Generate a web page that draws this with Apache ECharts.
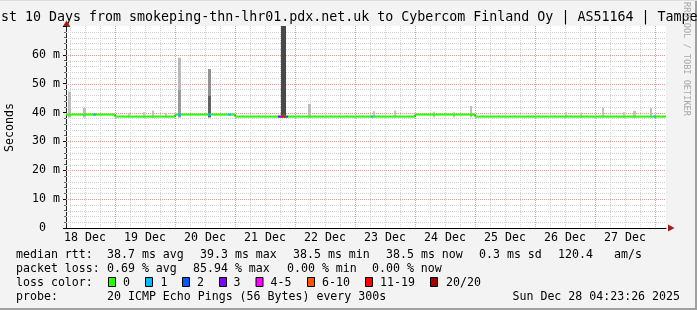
<!DOCTYPE html>
<html><head><meta charset="utf-8">
<script src="https://cdn.jsdelivr.net/npm/echarts@6/dist/echarts.min.js"></script>
<style>html,body{margin:0;padding:0;background:#f3f3f3;}#c{width:697px;height:310px;}</style>
</head><body><div id="c"></div>
<script>
// ---- data (hours since 18 Dec 00:00 UTC) ----
const startHour = 4 + 23/60 + 26/3600;          // Dec 18 04:23:26
const endHour = startHour + 240;                  // Dec 28 04:23:26
const dayLabels = ['18 Dec','19 Dec','20 Dec','21 Dec','22 Dec','23 Dec','24 Dec','25 Dec','26 Dec','27 Dec'];
const yTicks = [0,10,20,30,40,50,60,70];
// median rtt (ms) segments
const medianStart = [startHour, 24, 48, 72, 144, 168];
const medianEnd   = [24, 48, 72, 144, 168, endHour];
const medianValue = [39.3, 38.6, 39.3, 38.6, 39.3, 38.6];
// packet loss events (lost pings out of 20)
const lossStart = [15.2, 49.2, 61.2, 69.2, 89.2, 90.4, 92.4, 126.4, 239.6];
const lossEnd   = [16.4, 50.4, 62.4, 70.4, 90.4, 92.4, 93.2, 127.2, 240.4];
const lossPings = [1, 1, 1, 1, 3, 15, 2, 1, 1];
// smoke (ping spread): start, end, low ms, high ms, density
const smokeStart = [5.2, 11.2, 29.2, 35.2, 38.8, 44.0, 49.2, 49.2, 61.2, 61.2, 90.4, 101.2, 127.2, 135.6, 151.2, 159.2, 166.0, 204.0, 210.0, 218.8, 227.2, 231.2, 238.0];
const smokeEnd   = [6.4, 12.4, 30.0, 36.0, 39.6, 44.8, 50.4, 50.4, 62.4, 62.4, 92.4, 102.4, 128.0, 136.4, 152.0, 160.0, 166.8, 204.8, 210.8, 219.6, 228.0, 232.4, 238.8];
const smokeLow   = [38.3, 38.3, 38.3, 38.3, 38.3, 38.3, 38.3, 48.0, 38.3, 46.0, 38.3, 38.3, 38.3, 38.3, 38.3, 38.3, 38.3, 38.3, 38.3, 38.3, 38.3, 38.3, 38.3];
const smokeHigh  = [47.3, 41.6, 39.9, 40.2, 40.7, 39.9, 48.0, 59.0, 46.0, 55.1, 75.0, 43.0, 40.5, 40.7, 40.3, 40.1, 42.3, 40.2, 40.0, 41.7, 40.2, 40.6, 41.6];
const smokeDensity=[0.22, 0.22, 0.15, 0.15, 0.2, 0.15, 0.45, 0.25, 0.8, 0.5, 0.95, 0.22, 0.2, 0.2, 0.15, 0.15, 0.22, 0.15, 0.15, 0.2, 0.15, 0.2, 0.22];
// legend texts
const lossLabels = ['0','1','2','3','4-5','6-10','11-19','20/20'];
const medianStats = ['median rtt:','38.7 ms avg','39.3 ms max','38.5 ms min','38.5 ms now','0.3 ms sd','120.4','am/s'];
const lossStats = ['packet loss:','0.69 % avg','85.94 % max','0.00 % min','0.00 % now'];
const probeText = ['probe:','20 ICMP Echo Pings (56 Bytes) every 300s','Sun Dec 28 04:23:26 2025'];
const titleText = 'st 10 Days from smokeping-thn-lhr01.pdx.net.uk to Cybercom Finland Oy | AS51164 | Tampe';

// ---- styles ----
const lossColors = ['#26ff00','#00b8ff','#0059ff','#7e00ff','#ff00ff','#ff5500','#ff0000','#a10000'];
function lossIndex(p){ if(p<=3) return p; if(p<=5) return 4; if(p<=10) return 5; if(p<=19) return 6; return 7; }
const MONO = '"DejaVu Sans Mono", monospace';
const FS = 11.6;
const MAJOR_GRID = '#e59a9a';
const MINOR_GRID = '#d2d2d2';

const gridHours = [];
for (let h = 6; h < endHour; h += 6) gridHours.push(h);

const chart = echarts.init(document.getElementById('c'), null, {renderer:'canvas'});

function clipRect(r, params){
  return echarts.graphic.clipRectByRect(r, {x:params.coordSys.x, y:params.coordSys.y, width:params.coordSys.width, height:params.coordSys.height});
}

const stepLine = [];
medianStart.forEach((s,i)=>{ stepLine.push([s, medianValue[i]]); stepLine.push([medianEnd[i], medianValue[i]]); });

function txt(x, y, text, extra){
  return Object.assign({type:'text', x:x, y:y, silent:true,
    style:Object.assign({text:text, font: FS+'px '+MONO, fill:'#000', align:'left', verticalAlign:'middle'}, extra||{})});
}

const medX = [16, 107, 200, 293, 386, 479, 558, 614];
const lossX = [16, 107, 193, 287, 372];
const boxX = [108.5, 145.5, 182.5, 219.5, 256, 307.5, 365.5, 430.5];
const boxLabelX = [123, 160.5, 197, 233.5, 270.5, 322, 380, 446];

const graphics = [];
// 3D frame shading
graphics.push({type:'rect', shape:{x:0,y:308,width:697,height:2}, style:{fill:'#a0a0a0'}, silent:true});
graphics.push({type:'rect', shape:{x:695,y:0,width:2,height:310}, style:{fill:'#a0a0a0'}, silent:true});
graphics.push({type:'rect', shape:{x:0,y:0,width:697,height:1}, style:{fill:'#dcdcdc'}, silent:true});
// title
graphics.push(txt(1, 17.5, titleText, {font:'13.3px '+MONO}));
// watermark
graphics.push({type:'text', x:686, y:59, rotation:-Math.PI/2, silent:true,
  style:{text:'RRDTOOL / TOBI OETIKER', font:'8.6px '+MONO, fill:'#a8a8a8', align:'center', verticalAlign:'middle'}});
// y name
graphics.push({type:'text', x:10, y:127.5, rotation:Math.PI/2, silent:true,
  style:{text:'Seconds', font:FS+'px '+MONO, fill:'#000', align:'center', verticalAlign:'middle'}});
// legend rows
medianStats.forEach((t,i)=>graphics.push(txt(medX[i], 254.5, t)));
lossStats.forEach((t,i)=>graphics.push(txt(lossX[i], 268.5, t)));
graphics.push(txt(16, 282.5, 'loss color:'));
lossLabels.forEach((t,i)=>{
  graphics.push({type:'rect', shape:{x:boxX[i], y:277.5, width:7, height:9}, style:{fill:lossColors[i], stroke:'#000', lineWidth:1}, silent:true});
  graphics.push(txt(boxLabelX[i], 282.5, t));
});
graphics.push(txt(16, 296.5, probeText[0]));
graphics.push(txt(107, 296.5, probeText[1]));
graphics.push(txt(680, 296.5, probeText[2], {align:'right'}));
// axis arrows
graphics.push({type:'polygon', shape:{points:[[62.5,27],[70.5,27],[66.5,20.5]]}, style:{fill:'#a11d1d'}, silent:true});
graphics.push({type:'polygon', shape:{points:[[668,224.5],[668,231.5],[674.5,228]]}, style:{fill:'#a11d1d'}, silent:true});

const option = {
  animation:false,
  backgroundColor:'#f3f3f3',
  grid:{left:66, right:31, top:26, bottom:82, show:true, backgroundColor:'#ffffff', borderWidth:0},
  xAxis:{type:'value', min:startHour, max:endHour,
    axisLine:{show:true, onZero:false, lineStyle:{color:'#000', width:1}},
    axisTick:{show:false}, axisLabel:{show:false}, splitLine:{show:false}},
  yAxis:{type:'value', min:yTicks[0], max:yTicks[yTicks.length-1], interval:yTicks[1]-yTicks[0],
    axisLine:{show:true, lineStyle:{color:'#222', width:1}},
    axisTick:{show:true, length:3, lineStyle:{color:'#000'}},
    minorTick:{show:true, splitNumber:5, length:2, lineStyle:{color:'#666'}},
    axisLabel:{margin:6, color:'#000', fontFamily:'DejaVu Sans Mono', fontSize:FS, showMaxLabel:false,
      formatter:v=> v===0 ? '{z|0}' : v+' m',
      rich:{z:{fontFamily:'DejaVu Sans Mono', fontSize:FS, color:'#000', padding:[0,14,0,0]}}},
    splitLine:{show:false},
    minorSplitLine:{show:false}
  },
  graphic:graphics,
  series:[
    { // vertical grid
      type:'custom', z:1, silent:true, clip:false,
      data:gridHours.map(h=>[h]), encode:{x:0},
      renderItem:(params, api)=>{
        const h = api.value(0);
        const x = Math.round(api.coord([h,0])[0]) + 0.5;
        const cs = params.coordSys;
        const major = Math.abs(h % 24) < 1e-6;
        return {type:'line', shape:{x1:x, y1:cs.y, x2:x, y2:cs.y+cs.height},
          style:{stroke: major ? MAJOR_GRID : MINOR_GRID, lineWidth:1, lineDash:[1,1]}};
      }
    },
    { // horizontal grid every 2 ms (major every 10 ms)
      type:'custom', z:1, silent:true, clip:false,
      data:(function(){ const a=[]; for(let v=2; v<yTicks[yTicks.length-1]; v+=2) a.push([v]); return a; })(),
      encode:{y:0},
      renderItem:(params, api)=>{
        const v = api.value(0);
        const cs = params.coordSys;
        const y = Math.round(api.coord([startHour, v])[1]) + 0.5;
        const major = Math.abs(v % 10) < 1e-6;
        return {type:'line', shape:{x1:cs.x, y1:y, x2:cs.x+cs.width, y2:y},
          style:{stroke: major ? MAJOR_GRID : MINOR_GRID, lineWidth:1, lineDash:[1,1]}};
      }
    },
    { // day labels at noon
      type:'custom', z:3, silent:true, clip:false,
      data:dayLabels.map((d,i)=>[12+24*i]), encode:{x:0},
      renderItem:(params, api)=>{
        const p = api.coord([api.value(0), 0]);
        return {type:'text', x:p[0], y:p[1]+10,
          style:{text:dayLabels[params.dataIndex], font:FS+'px '+MONO, fill:'#000', align:'center', verticalAlign:'middle'}};
      }
    },
    { // smoke
      type:'custom', z:2, silent:true,
      data:smokeStart.map((s,i)=>[s, smokeEnd[i], smokeLow[i], smokeHigh[i], smokeDensity[i]]),
      encode:{x:[0,1], y:[2,3]},
      renderItem:(params, api)=>{
        const a = api.coord([api.value(0), api.value(3)]);
        const b = api.coord([api.value(1), api.value(2)]);
        const g = Math.round(225 - api.value(4)*160);
        const r = clipRect({x:a[0], y:a[1], width:b[0]-a[0], height:b[1]-a[1]}, params);
        if(!r) return null;
        return {type:'rect', shape:r, style:{fill:'rgb('+g+','+g+','+g+')'}};
      }
    },
    { // step connectors
      type:'line', z:3, silent:true, symbol:'none', data:stepLine,
      lineStyle:{color:'#000', width:1}
    },
    { // median line
      type:'custom', z:4, silent:true,
      data:medianStart.map((s,i)=>[s, medianEnd[i], medianValue[i]]),
      encode:{x:[0,1], y:2},
      renderItem:(params, api)=>{
        const a = api.coord([api.value(0), api.value(2)]);
        const b = api.coord([api.value(1), api.value(2)]);
        return {type:'rect', shape:{x:a[0], y:a[1]-1, width:b[0]-a[0], height:2}, style:{fill:lossColors[0]}};
      }
    },
    { // loss coloured parts of median
      type:'custom', z:5, silent:true,
      data:lossStart.map((s,i)=>[s, lossEnd[i], lossPings[i]]),
      encode:{x:[0,1]},
      renderItem:(params, api)=>{
        const s = api.value(0), e = api.value(1);
        let v = medianValue[0];
        for(let k=0;k<medianStart.length;k++){ if(s>=medianStart[k] && s<medianEnd[k]) v = medianValue[k]; }
        const a = api.coord([s, v]);
        const b = api.coord([e, v]);
        return {type:'rect', shape:{x:a[0], y:a[1]-1, width:b[0]-a[0], height:2}, style:{fill:lossColors[lossIndex(api.value(2))]}};
      }
    }
  ]
};
chart.setOption(option);
</script>
</body></html>
